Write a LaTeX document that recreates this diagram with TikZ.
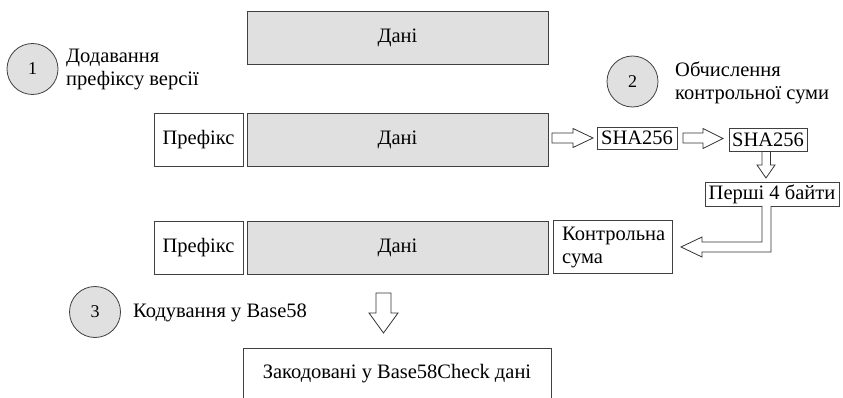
\documentclass[tikz,border=0pt]{standalone}
\usepackage{fontspec}
\setmainfont{Liberation Serif}
\begin{document}
\begin{tikzpicture}[x=1pt,y=-1pt,
  base/.style={draw=black!75, line width=0.8pt, inner sep=0pt, outer sep=0pt, font=\fontsize{20.5}{23}\selectfont},
  databox/.style={base, fill=black!12, minimum width=301pt, minimum height=53pt},
  prefbox/.style={base, fill=white, minimum width=89pt, minimum height=53pt},
  smallbox/.style={base, fill=white, minimum height=22pt},
  stepcircle/.style={draw=black!75, line width=0.8pt, fill=black!12, circle, minimum size=51pt, inner sep=0pt, font=\fontsize{18}{20}\selectfont},
  label/.style={inner sep=0pt, align=left, anchor=west, font=\fontsize{20.5}{23}\selectfont},
  hollow/.style={draw=black!80, line width=0.8pt, fill=white, line join=miter}
]
\useasboundingbox (0,0) rectangle (843,398);
\clip (0,0) rectangle (843,398);

% step 1
\node[stepcircle] (c1) at (32.5,69) {1};
\node[label] (t1) at (66,70) {Додавання\\префіксу версії};
\node[databox] (d1) at (397.5,37.5) {Дані};

% row 2
\node[prefbox] (p2) at (198.5,139.5) {Префікс};
\node[databox] (d2) at (397.5,139.5) {Дані};

% step 2
\node[stepcircle] (c2) at (632.5,81.5) {2};
\node[label] (t2) at (675,83) {Обчислення\\контрольної суми};
\node[smallbox, minimum width=80pt] (s1) at (637,138) {SHA256};
\node[smallbox, minimum width=78pt, minimum height=23pt] (s2) at (768,139.5) {SHA256};
\node[smallbox, minimum width=134pt, minimum height=24pt] (f4) at (772,194) {Перші 4 байти};

% row 3
\node[prefbox] (p3) at (198.5,247.5) {Префікс};
\node[databox] (d3) at (397.5,247.5) {Дані};
\node[base, fill=white, minimum width=119pt, minimum height=53pt] (cs) at (612.5,246.5) {};
\node[label] (cst) at (562,247.5) {Контрольна\\сума};

% step 3
\node[stepcircle] (c3) at (95,312) {3};
\node[label] (t3) at (133,313) {Кодування у Base58};
\node[base, fill=white, minimum width=308pt, minimum height=51pt] (res) at (397,373.5) {Закодовані у Base58Check дані};

% hollow arrows
\draw[hollow] (552,133) -- (573,133) -- (573,128.5) -- (593,138) -- (573,147.5) -- (573,143) -- (552,143) -- cycle;
\draw[hollow] (683,133) -- (703,133) -- (703,128.5) -- (723,138.5) -- (703,148.5) -- (703,143) -- (683,143) -- cycle;
\draw[hollow] (762,151.5) -- (770.5,151.5) -- (770.5,165) -- (775,165) -- (766,178) -- (757,165) -- (762,165) -- cycle;
\draw[hollow] (762,206) -- (762,242) -- (702,242) -- (702,237) -- (681,247) -- (702,257) -- (702,252) -- (771,252) -- (771,206);
\draw[hollow] (376,293) -- (391,293) -- (391,313) -- (398,313) -- (383.5,333) -- (369,313) -- (376,313) -- cycle;
\end{tikzpicture}
\end{document}
